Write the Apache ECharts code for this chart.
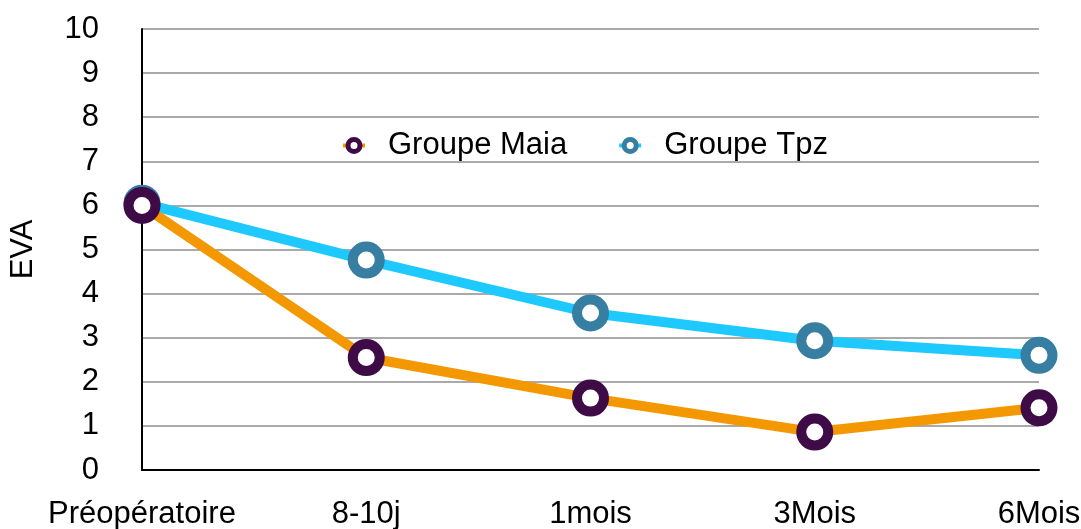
<!DOCTYPE html>
<html>
<head>
<meta charset="utf-8">
<script src="https://cdn.jsdelivr.net/npm/echarts@6/dist/echarts.min.js"></script>
<style>html,body{margin:0;padding:0;background:#fff}#c{width:1081px;height:529px}</style>
</head>
<body>
<div id="c"></div>
<script>
const categories = ['Préopératoire', '8-10j', '1mois', '3Mois', '6Mois'];
const maia = [6, 2.55, 1.63, 0.86, 1.41];
const tpz = [6.05, 4.76, 3.56, 2.93, 2.6];
const seriesNames = ['Groupe Maia', 'Groupe Tpz'];
const font = 'Liberation Sans, Arial, Helvetica, sans-serif';
const fs = 31;

const chart = echarts.init(document.getElementById('c'));
chart.setOption({
  animation: false,
  grid: { left: 142, right: 42, top: 29, bottom: 59, outerBoundsMode: 'none', containLabel: false },
  legend: {
    data: seriesNames,
    left: 336, top: 125,
    itemWidth: 22, itemHeight: 15, itemGap: 50,
    itemStyle: { borderWidth: 5 },
    lineStyle: { width: 4 },
    textStyle: { fontFamily: font, fontSize: fs, color: '#000', padding: [0, 0, 0, 18] }
  },
  xAxis: {
    type: 'category', data: categories, boundaryGap: false,
    axisLine: { lineStyle: { color: '#000', width: 2 } },
    axisTick: { show: false },
    axisLabel: { fontFamily: font, fontSize: fs, color: '#000', margin: 29, interval: 0 },
    splitLine: { show: false }
  },
  yAxis: {
    type: 'value', min: 0, max: 10, interval: 1,
    name: 'EVA', nameLocation: 'middle', nameGap: 103, nameRotate: 90,
    nameTextStyle: { fontFamily: font, fontSize: fs, color: '#000' },
    axisLine: { show: true, lineStyle: { color: '#000', width: 2 } },
    axisTick: { show: false },
    axisLabel: { fontFamily: font, fontSize: fs, color: '#000', margin: 43 },
    splitLine: { lineStyle: { color: '#AAAAAA', width: 2 } }
  },
  series: [
    {
      name: seriesNames[0], type: 'line', data: maia, z: 4,
      symbol: 'circle', symbolSize: 27,
      lineStyle: { color: '#F39800', width: 10 },
      itemStyle: { color: '#fff', borderColor: '#3E0B47', borderWidth: 10 }
    },
    {
      name: seriesNames[1], type: 'line', data: tpz, z: 3,
      symbol: 'circle', symbolSize: 27,
      lineStyle: { color: '#1DC9FF', width: 10 },
      itemStyle: { color: '#fff', borderColor: '#367FA3', borderWidth: 10 }
    }
  ]
});
</script>
</body>
</html>
